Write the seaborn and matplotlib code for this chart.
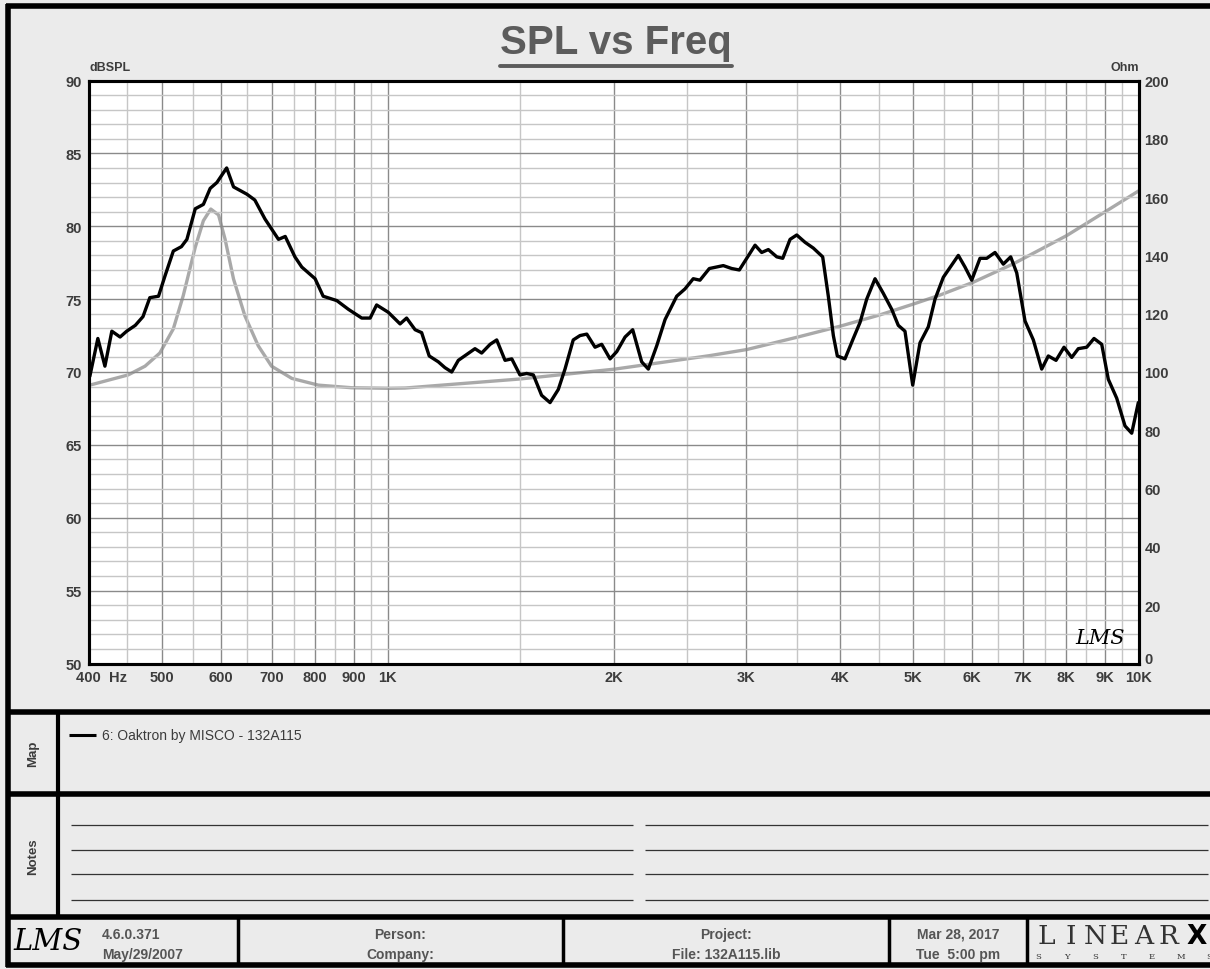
import seaborn as sns
import matplotlib.pyplot as plt
from matplotlib.lines import Line2D
from matplotlib.ticker import FixedLocator, MultipleLocator, NullFormatter
from matplotlib.transforms import ScaledTranslation

# SPL response (Hz, dBSPL)
spl_freq = [401, 411, 420, 429, 440, 449, 461, 472, 482, 495, 505, 518, 531, 540, 554,
            568, 580, 592, 610, 623, 649, 665, 686, 715, 730, 752, 768, 800, 820, 855,
            886, 923, 947, 966, 1001, 1038, 1059, 1087, 1109, 1135, 1167, 1191, 1216,
            1241, 1273, 1306, 1333, 1368, 1396, 1432, 1462, 1499, 1530, 1562, 1602,
            1644, 1686, 1721, 1765, 1802, 1840, 1887, 1926, 1976, 2017, 2069, 2118,
            2177, 2222, 2280, 2339, 2424, 2486, 2550, 2603, 2679, 2796, 2869, 2937,
            3004, 3082, 3145, 3210, 3294, 3355, 3431, 3502, 3592, 3685, 3792, 3858,
            3918, 3966, 4060, 4165, 4252, 4340, 4452, 4566, 4686, 4781, 4880, 4997,
            5110, 5242, 5351, 5489, 5747, 5866, 5988, 6142, 6270, 6431, 6597, 6748,
            6874, 7051, 7233, 7421, 7573, 7754, 7946, 8136, 8302, 8519, 8712, 8920,
            9102, 9340, 9580, 9779, 9979]
spl_db = [69.7, 72.3, 70.4, 72.8, 72.4, 72.8, 73.2, 73.8, 75.1, 75.2, 76.6, 78.3, 78.6,
          79.1, 81.2, 81.5, 82.6, 83.0, 84.0, 82.7, 82.2, 81.8, 80.5, 79.1, 79.3, 77.9,
          77.2, 76.4, 75.2, 74.9, 74.3, 73.7, 73.7, 74.6, 74.1, 73.3, 73.7, 72.9, 72.7,
          71.1, 70.7, 70.3, 70.0, 70.8, 71.2, 71.6, 71.3, 71.9, 72.2, 70.8, 70.9, 69.8,
          69.9, 69.8, 68.4, 67.9, 68.8, 70.2, 72.2, 72.5, 72.6, 71.7, 71.9, 70.9, 71.4,
          72.4, 72.9, 70.7, 70.2, 71.8, 73.6, 75.2, 75.7, 76.4, 76.3, 77.1, 77.3, 77.1,
          77.0, 77.8, 78.7, 78.2, 78.4, 77.9, 77.8, 79.1, 79.4, 78.9, 78.5, 77.9, 75.2,
          72.5, 71.1, 70.9, 72.3, 73.4, 75.0, 76.4, 75.4, 74.3, 73.2, 72.8, 69.1, 72.0,
          73.1, 75.0, 76.5, 78.0, 77.2, 76.3, 77.8, 77.8, 78.2, 77.4, 77.9, 76.8, 73.5,
          72.2, 70.2, 71.1, 70.8, 71.7, 71.0, 71.6, 71.7, 72.3, 71.9, 69.5, 68.2, 66.3,
          65.8, 67.9]

# impedance curve (Hz, Ohm)
imp_freq = [401, 451, 475, 497, 518, 534, 554, 568, 581, 595, 607, 623, 645, 672, 700,
            745, 808, 895, 1006, 1054, 1499, 2006, 2679, 3004, 3502, 3999, 4520, 5006,
            5434, 6017, 6802, 8012, 9058, 10000]
imp_ohm = [95.5, 99.0, 102.0, 106.5, 114.8, 126.2, 142.8, 151.9, 155.9, 153.9, 145.6,
           131.9, 119.3, 109.0, 102.0, 97.8, 95.5, 94.6, 94.4, 94.5, 97.6, 101.0, 105.6,
           107.7, 111.9, 115.7, 119.6, 123.3, 126.4, 130.8, 137.1, 146.8, 155.3, 162.2]

freq_ticks = [400, 500, 600, 700, 800, 900, 1000, 2000, 3000, 4000, 5000, 6000, 7000,
              8000, 9000, 10000]
freq_labels = ['400  Hz', '500', '600', '700', '800', '900', '1K', '2K', '3K', '4K',
               '5K', '6K', '7K', '8K', '9K', '10K']
freq_minor = [450, 550, 650, 750, 850, 950, 1500, 2500, 3500, 4500, 5500, 6500, 7500,
              8500, 9500]
db_ticks = [50, 55, 60, 65, 70, 75, 80, 85, 90]
ohm_ticks = [0, 20, 40, 60, 80, 100, 120, 140, 160, 180, 200]

curve_name = '6: Oaktron by MISCO - 132A115'

sns.set_style('white')
plt.rcParams['font.family'] = ['Liberation Sans Narrow', 'Liberation Sans', 'DejaVu Sans']

W, H = 1210, 970
BG = '#ebebeb'
TXT = '#3c3c3c'
fig = plt.figure(figsize=(W / 100, H / 100), dpi=100, facecolor=BG)


def fx(x):
    return x / W


def fy(y):
    return 1 - y / H


def hline(y, x0, x1, lw, color='black'):
    fig.add_artist(Line2D([fx(x0), fx(x1)], [fy(y), fy(y)], lw=lw, color=color,
                          solid_capstyle='butt'))


def vline(x, y0, y1, lw, color='black'):
    fig.add_artist(Line2D([fx(x), fx(x)], [fy(y0), fy(y1)], lw=lw, color=color,
                          solid_capstyle='butt'))


def ftext(x, y, s, **kw):
    return fig.text(fx(x), fy(y), s, **kw)


# main plot
rect = [fx(89), fy(664.5), fx(1139) - fx(89), fy(81.5) - fy(664.5)]
ax2 = fig.add_axes(rect)
ax = fig.add_axes(rect, sharex=ax2)
ax2.set_facecolor('white')
ax.patch.set_visible(False)

sns.lineplot(x=imp_freq, y=imp_ohm, ax=ax2, color='#a9a9a9', lw=2.4, estimator=None)
sns.lineplot(x=spl_freq, y=spl_db, ax=ax, color='black', lw=2.4, estimator=None)

ax.set_xscale('log')
ax.set_xlim(400, 10000)
ax.set_ylim(50, 90)
ax2.set_ylim(0, 200)

ax.xaxis.set_major_locator(FixedLocator(freq_ticks))
ax.xaxis.set_minor_locator(FixedLocator(freq_minor))
ax.xaxis.set_minor_formatter(NullFormatter())
ax.set_xticklabels(freq_labels)
ax.yaxis.set_major_locator(FixedLocator(db_ticks))
ax.yaxis.set_minor_locator(MultipleLocator(1))
ax.grid(which='major', color='#8a8a8a', lw=1.0)
ax.grid(which='minor', color='#c6c6c6', lw=1.0)

ax2.yaxis.tick_right()
ax2.set_yticks(ohm_ticks)
ax2.tick_params(axis='x', which='both', length=0, labelbottom=False)
ax2.tick_params(axis='y', length=0, pad=4, labelsize=10.5, labelcolor=TXT)
ax.tick_params(axis='both', which='both', length=0, labelsize=10.5, labelcolor=TXT)
ax.tick_params(axis='x', pad=5)
ax.tick_params(axis='y', pad=5)
for lab in ax.get_xticklabels() + ax.get_yticklabels() + ax2.get_yticklabels():
    lab.set_fontweight('bold')
first = ax.get_xticklabels()[0]
first.set_horizontalalignment('left')
first.set_transform(first.get_transform() + ScaledTranslation(-9 / 72, 0, fig.dpi_scale_trans))
zero = ax2.get_yticklabels()[0]
zero.set_verticalalignment('bottom')
zero.set_transform(zero.get_transform() + ScaledTranslation(0, -2 / 72, fig.dpi_scale_trans))

for a in (ax, ax2):
    a.set_xlabel('')
    a.set_ylabel('')
    for sp in a.spines.values():
        sp.set_visible(True)
        sp.set_color('black')
        sp.set_linewidth(2.2)

ftext(90, 68, 'dBSPL', fontsize=9, fontweight='bold', color=TXT, va='center')
ftext(1139, 68, 'Ohm', fontsize=9, fontweight='bold', color=TXT, va='center', ha='right')
ftext(1100, 638, 'LMS', fontsize=15, style='italic', family='DejaVu Serif',
      color='black', ha='center', va='center')

# title with underline
title = ftext(616, 43, 'SPL vs Freq', fontsize=29, fontweight='bold', color='#5c5c5c',
              family=['Liberation Sans', 'DejaVu Sans'], ha='center', va='center')
bb = title.get_window_extent(renderer=fig.canvas.get_renderer())
fig.add_artist(Line2D([bb.x0 / W, bb.x1 / W], [fy(67), fy(67)], lw=2.8, color='#5c5c5c'))

# frame and panel separators
vline(8, 5, 968, 4)
hline(7, 6, W, 4)
hline(966, 6, W, 4)
hline(713, 6, W, 4)
hline(795, 6, W, 4)
hline(918, 6, W, 4)
vline(58, 713, 918, 3)

# map panel
ftext(33, 754, 'Map', fontsize=9.5, fontweight='bold', color=TXT, rotation=90,
      ha='center', va='center')
hline(736, 69, 96, 2.2)
ftext(102, 736, curve_name, fontsize=10, color=TXT, va='center')

# notes panel
ftext(33, 857, 'Notes', fontsize=9.5, fontweight='bold', color=TXT, rotation=90,
      ha='center', va='center')
for y in (826, 851, 875, 901):
    hline(y, 71, 633, 0.9, '#333333')
    hline(y, 645, 1208, 0.9, '#333333')

# footer
for x in (238, 563, 889, 1027):
    vline(x, 918, 966, 2.5)
ftext(48, 942, 'LMS', fontsize=21, style='italic', family='DejaVu Serif',
      color='black', ha='center', va='center')
ftext(102, 935, '4.6.0.371', fontsize=10, fontweight='bold', color='#555555', va='center')
ftext(102, 955, 'May/29/2007', fontsize=10, fontweight='bold', color='#555555', va='center')
ftext(400, 935, 'Person:', fontsize=10, fontweight='bold', color='#555555',
      ha='center', va='center')
ftext(400, 955, 'Company:', fontsize=10, fontweight='bold', color='#555555',
      ha='center', va='center')
ftext(726, 935, 'Project:', fontsize=10, fontweight='bold', color='#555555',
      ha='center', va='center')
ftext(726, 955, 'File: 132A115.lib', fontsize=10, fontweight='bold', color='#555555',
      ha='center', va='center')
ftext(958, 935, 'Mar 28, 2017', fontsize=10, fontweight='bold', color='#555555',
      ha='center', va='center')
ftext(958, 955, 'Tue  5:00 pm', fontsize=10, fontweight='bold', color='#555555',
      ha='center', va='center')
for i, ch in enumerate('LINEAR'):
    ftext(1046 + i * 24.5, 937, ch, fontsize=19, family='DejaVu Serif', color='#333333',
          fontweight='light', ha='center', va='center')
ftext(1197, 937, 'X', fontsize=19, family='DejaVu Sans', fontweight='bold',
      color='black', ha='center', va='center')
for i, ch in enumerate('SYSTEMS'):
    ftext(1038 + i * 28.5, 957, ch, fontsize=6, family='DejaVu Serif', color='#333333',
          ha='center', va='center')

plt.savefig('out.png', dpi=100, facecolor=BG)
plt.close()
